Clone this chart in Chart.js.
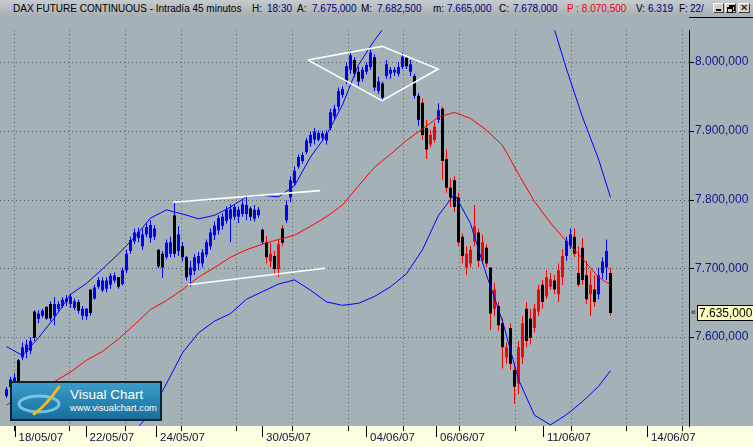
<!DOCTYPE html>
<html lang="es">
<head>
<meta charset="UTF-8">
<title>DAX FUTURE CONTINUOUS - Intradía 45 minutos</title>
<script src="https://cdn.jsdelivr.net/npm/chart.js"></script>
<style>
  html, body { margin: 0; padding: 0; }
  body { width: 753px; height: 447px; position: relative; overflow: hidden; background: #a4b2b8;
         font-family: "Liberation Sans", Arial, sans-serif; }
  #hdr { position: absolute; left: 0; top: 0; width: 753px; height: 17px;
         background: linear-gradient(#c6cbce, #a6adb1); }
  #hdr span { position: absolute; top: 2px; font-size: 10px; line-height: 13px; white-space: pre; color: #000; }
  #hdr span.v { color: #00007c; }
  #hdr span.p { color: #f00000; }
  .btn { position: absolute; top: 3px; width: 11px; height: 10px; background: #d4d0c8;
         border: 1px solid; border-color: #fff #404040 #404040 #fff; box-sizing: border-box; }
  .btn i { position: absolute; display: block; }
  #wrap { position: absolute; left: 0; top: 17px; width: 753px; height: 430px; }
  #logo { position: absolute; left: 10px; top: 381px; width: 152px; height: 40px; box-sizing: border-box;
          border: 2px solid #0b2532; background: linear-gradient(#3c9cc9, #146f9c); overflow: hidden; }
  #logo .t1 { position: absolute; left: 58px; top: 4px; color: #fff; font-size: 13.5px; line-height: 15px; }
  #logo .t2 { position: absolute; left: 58px; top: 20px; color: #fff; font-size: 9.3px; line-height: 11px; }
  #logo svg { position: absolute; left: 0; top: 0; }
</style>
</head>
<body>
<div id="hdr">
  <span style="left:13px">DAX FUTURE CONTINUOUS - Intradía 45 minutos</span>
  <span style="left:252px">H:</span><span class="v" style="left:267px">18:30</span>
  <span style="left:297px">A:</span><span class="v" style="left:312px">7.675,000</span>
  <span style="left:361px">M:</span><span class="v" style="left:377px">7.682,500</span>
  <span style="left:433px">m:</span><span class="v" style="left:447px">7.665,000</span>
  <span style="left:499px">C:</span><span class="v" style="left:513px">7.678,000</span>
  <span class="p" style="left:567px">P : 8.070,500</span>
  <span style="left:636px">V:</span><span class="v" style="left:648px">6.319</span>
  <span style="left:679px">F:</span><span class="v" style="left:690px">22/</span>
  <div class="btn" style="left:713px"><i style="left:2px;top:5px;width:5px;height:2px;background:#000"></i></div>
  <div class="btn" style="left:725px"><i style="left:3px;top:1px;width:4px;height:3px;border:1px solid #000;border-top-width:2px"></i><i style="left:1px;top:3px;width:4px;height:3px;border:1px solid #000;border-top-width:2px;background:#d4d0c8"></i></div>
  <div class="btn" style="left:738px;width:12px"><i style="left:1px;top:-2px;font:bold 10px/12px 'DejaVu Sans',sans-serif;font-style:normal">✕</i></div>
</div>

<div id="wrap"><canvas id="chart"></canvas></div>

<div id="logo">
  <svg width="60" height="38" viewBox="0 0 60 38">
    <ellipse cx="27" cy="21" rx="20" ry="8" fill="none" stroke="#8fd0f0" stroke-width="3" opacity="0.8"/>
    <path d="M47 4 C40 14, 32 24, 22 31" fill="none" stroke="#f2b820" stroke-width="3" stroke-linecap="round"/>
  </svg>
  <div class="t1">Visual Chart</div>
  <div class="t2">www.visualchart.com</div>
</div>

<script>
// 45-minute bars, one entry per bar (index 0 = first bar on the chart)
const opens = [
  7514, 7527, 7531, 7566, 7570, 7578, 7580, 7637, 7626, 7631,
  7644, 7648, 7631, 7641, 7645, 7651, 7648, 7642, 7651, 7641,
  7641, 7669, 7656, 7673, 7668, 7670, 7676, 7682, 7687, 7677,
  7697, 7725, 7739, 7744, 7732, 7749, 7744, 7746, 7727, 7721,
  7716, 7721, 7777, 7725, 7732, 7716, 7690, 7696, 7707, 7707,
  7720, 7732, 7748, 7755, 7762, 7769, 7772, 7775, 7785, 7779,
  7779, 7787, 7772, 7777, 7756, 7738, 7721, 7718, 7699, 7758,
  7770, 7803, 7824, 7848, 7856, 7869, 7882, 7887, 7887, 7890,
  7896, 7904, 7921, 7935, 7952, 7972, 7989, 8003, 7986, 7976,
  7986, 7993, 8007, 7958, 7969, 7980, 7983, 7989, 7983, 7993,
  8006, 7997, 7980, 7951, 7941, 7904, 7880, 7887, 7916, 7932,
  7859, 7817, 7828, 7803, 7746, 7701, 7707, 7739, 7752, 7711,
  7730, 7701, 7641, 7645, 7620, 7570, 7613, 7552, 7532, 7570,
  7641, 7627, 7613, 7637, 7676, 7659, 7673, 7682, 7662, 7687,
  7718, 7732, 7746, 7693, 7730, 7690, 7662, 7669, 7662, 7693,
  7701, 7693
];
const highs = [
  7527, 7542, 7547, 7568, 7592, 7596, 7600, 7639, 7639, 7641,
  7644, 7652, 7658, 7652, 7658, 7661, 7663, 7656, 7654, 7645,
  7642, 7669, 7676, 7687, 7687, 7687, 7693, 7694, 7687, 7701,
  7727, 7746, 7758, 7759, 7758, 7765, 7770, 7763, 7728, 7725,
  7742, 7746, 7796, 7761, 7738, 7718, 7711, 7721, 7724, 7728,
  7742, 7758, 7768, 7777, 7780, 7790, 7793, 7793, 7790, 7799,
  7806, 7790, 7792, 7789, 7758, 7747, 7737, 7725, 7742, 7763,
  7799, 7834, 7848, 7866, 7869, 7890, 7899, 7904, 7901, 7900,
  7901, 7932, 7938, 7963, 7965, 8000, 8017, 8007, 7993, 7993,
  8000, 8021, 8011, 7979, 7972, 8003, 7993, 7993, 8000, 8014,
  8008, 8003, 7983, 7955, 7947, 7916, 7901, 7913, 7940, 7935,
  7873, 7831, 7834, 7810, 7751, 7732, 7732, 7792, 7758, 7749,
  7735, 7701, 7679, 7651, 7627, 7592, 7620, 7561, 7594, 7630,
  7651, 7641, 7648, 7676, 7683, 7697, 7693, 7690, 7707, 7728,
  7746, 7758, 7758, 7732, 7744, 7711, 7697, 7690, 7701, 7716,
  7742, 7701
];
const lows = [
  7511, 7524, 7528, 7530, 7566, 7569, 7575, 7594, 7620, 7628,
  7625, 7623, 7617, 7637, 7642, 7645, 7642, 7639, 7634, 7625,
  7625, 7631, 7654, 7670, 7665, 7665, 7670, 7679, 7670, 7675,
  7693, 7721, 7735, 7738, 7727, 7745, 7737, 7741, 7700, 7686,
  7713, 7716, 7716, 7718, 7710, 7682, 7673, 7690, 7697, 7701,
  7716, 7727, 7741, 7749, 7756, 7765, 7738, 7770, 7766, 7775,
  7770, 7769, 7768, 7773, 7735, 7707, 7701, 7690, 7687, 7732,
  7766, 7796, 7821, 7845, 7852, 7866, 7877, 7880, 7885, 7886,
  7880, 7901, 7916, 7930, 7948, 7968, 7983, 7978, 7965, 7972,
  7982, 7989, 7958, 7954, 7944, 7976, 7976, 7980, 7979, 7990,
  7990, 7980, 7947, 7907, 7887, 7859, 7876, 7883, 7911, 7828,
  7810, 7789, 7782, 7732, 7707, 7690, 7701, 7732, 7701, 7707,
  7701, 7610, 7630, 7609, 7554, 7561, 7552, 7503, 7517, 7561,
  7585, 7589, 7606, 7630, 7641, 7655, 7669, 7662, 7651, 7676,
  7711, 7728, 7716, 7673, 7676, 7648, 7630, 7644, 7655, 7685,
  7683, 7631
];
const closes = [
  7524, 7538, 7541, 7534, 7585, 7589, 7594, 7599, 7634, 7638,
  7627, 7627, 7648, 7648, 7654, 7656, 7659, 7652, 7638, 7631,
  7630, 7635, 7672, 7683, 7682, 7682, 7689, 7690, 7673, 7697,
  7721, 7741, 7752, 7753, 7749, 7760, 7763, 7758, 7703, 7701,
  7737, 7738, 7721, 7749, 7716, 7687, 7701, 7716, 7718, 7723,
  7738, 7752, 7762, 7773, 7775, 7785, 7786, 7789, 7775, 7793,
  7792, 7775, 7785, 7785, 7738, 7716, 7710, 7699, 7735, 7737,
  7792, 7828, 7842, 7862, 7865, 7886, 7894, 7899, 7897, 7896,
  7886, 7927, 7932, 7958, 7961, 7994, 8010, 7983, 7972, 7989,
  7996, 8014, 7963, 7972, 7948, 7997, 7989, 7985, 7993, 8008,
  7994, 7986, 7951, 7916, 7894, 7873, 7894, 7906, 7930, 7856,
  7817, 7803, 7789, 7738, 7718, 7721, 7727, 7761, 7711, 7738,
  7707, 7634, 7669, 7617, 7585, 7585, 7561, 7528, 7585, 7620,
  7594, 7599, 7641, 7669, 7651, 7687, 7684, 7669, 7697, 7718,
  7740, 7749, 7721, 7676, 7683, 7655, 7676, 7651, 7690, 7710,
  7725, 7635
];

// indicator lines, sampled at these bar indexes
const bandIdx = [0, 4, 8, 12, 16, 20, 24, 28, 32, 36, 40, 44, 48, 52, 56, 60, 64, 68, 72, 76,
                 80, 84, 88, 92, 96, 100, 104, 108, 112, 116, 120, 124, 128, 132, 136, 140, 144, 148, 151];
const maVals = [7501, 7514, 7525, 7535, 7549, 7566, 7579, 7597, 7618, 7640, 7653, 7669, 7687, 7701, 7716, 7727, 7735, 7742, 7748, 7761,
                7775, 7792, 7820, 7847, 7866, 7886, 7903, 7920, 7927, 7918, 7901, 7879, 7837, 7797, 7766, 7739, 7714, 7687, 7676];
const upperVals = [7586, 7573, 7599, 7628, 7662, 7678, 7699, 7721, 7745, 7773, 7785, 7779, 7772, 7777, 7789, 7804, 7806, 7804, 7820, 7862,
                   7894, 7938, 7996, 8032, 8063, 8087, 8106, 8117, 8124, 8127, 8127, 8121, 8110, 8092, 8066, 7990, 7920, 7859, 7803];
const lowerVals = [7408, 7401, 7397, 7397, 7401, 7411, 7422, 7437, 7462, 7490, 7532, 7577, 7606, 7623, 7634, 7655, 7666, 7677, 7683, 7668,
                   7651, 7646, 7649, 7659, 7673, 7692, 7727, 7777, 7808, 7765, 7690, 7623, 7538, 7486, 7472, 7487, 7506, 7528, 7551];

// hand drawn white lines [barIndex, price]
const wedgeTop = [[41.6, 7796], [78.4, 7813]];
const wedgeBottom = [[45.4, 7676], [79.6, 7700]];
const diamond = [[75.4, 8003], [93.9, 8023], [107.9, 7990], [93.9, 7944], [75.4, 8003]];

// axis labels
const dayLabels = ['18/05/07', '22/05/07', '24/05/07', '30/05/07', '04/06/07', '06/06/07', '11/06/07', '14/06/07'];
const dayStart = [2, 19.75, 37.4, 63.9, 89.9, 107.4, 134.1, 160.1];
const yTicks = [7600, 7700, 7800, 7900, 8000];

const X_MIN = -1.625, X_MAX = 170.625;
const Y_MIN = 7470.4, Y_MAX = 8046.5;
const GRID_X0 = 1.75, GRID_STEP = 13.925;
const BIG_BODY = 12;   // bodies at least this tall are painted black when falling

const BLUE = '#0000ff', RED = '#ff0000', BLACK = '#000000';
const PLOT_BG = '#a4b2b8', AXIS_BG = '#ffffe1';

function fmt(v) {
  const s = String(Math.round(v));
  return s.slice(0, -3) + '.' + s.slice(-3) + ',000';
}

function maAt(i) {
  for (let k = 1; k < bandIdx.length; k++) {
    if (i <= bandIdx[k]) {
      const a = bandIdx[k - 1], b = bandIdx[k];
      return maVals[k - 1] + (maVals[k] - maVals[k - 1]) * (i - a) / (b - a);
    }
  }
  return maVals[maVals.length - 1];
}

const trendColor = closes.map((c, i) => c >= maAt(i) ? BLUE : RED);
const bodyColor = closes.map((c, i) => (opens[i] - c >= BIG_BODY) ? BLACK : trendColor[i]);

const toPts = arr => arr.map(p => ({ x: p[0], y: p[1] }));
const bandPts = vals => vals.map((v, k) => ({ x: bandIdx[k], y: v }));

const decor = {
  id: 'decor',
  beforeDraw(chart) {
    const { ctx, width, height, chartArea } = chart;
    const xs = chart.scales.x, ys = chart.scales.y;
    ctx.save();
    ctx.fillStyle = PLOT_BG;
    ctx.fillRect(0, 0, width, chartArea.bottom);
    ctx.fillStyle = AXIS_BG;
    ctx.fillRect(0, chartArea.bottom, width, height - chartArea.bottom);

    // dotted grid
    ctx.strokeStyle = '#5a6266';
    ctx.lineWidth = 1;
    ctx.setLineDash([1, 3]);
    ctx.beginPath();
    for (let v = GRID_X0; v < X_MAX; v += GRID_STEP) {
      const px = Math.round(xs.getPixelForValue(v)) + 0.5;
      ctx.moveTo(px, chartArea.top);
      ctx.lineTo(px, chartArea.bottom);
    }
    yTicks.forEach(t => {
      const py = Math.round(ys.getPixelForValue(t)) + 0.5;
      ctx.moveTo(chartArea.left, py);
      ctx.lineTo(chartArea.right, py);
    });
    ctx.stroke();
    ctx.restore();
  },
  afterDraw(chart) {
    const { ctx, chartArea, width } = chart;
    const xs = chart.scales.x, ys = chart.scales.y;
    ctx.save();
    ctx.strokeStyle = '#000';
    ctx.lineWidth = 1;
    ctx.beginPath();
    // x ticks: short ones under the grid, long ones at each day
    for (let v = GRID_X0; v < X_MAX; v += GRID_STEP) {
      const px = Math.round(xs.getPixelForValue(v)) + 0.5;
      ctx.moveTo(px, chartArea.bottom);
      ctx.lineTo(px, chartArea.bottom + 5);
    }
    dayStart.forEach(v => {
      const px = Math.round(xs.getPixelForValue(v)) + 0.5;
      ctx.moveTo(px, chartArea.bottom);
      ctx.lineTo(px, chartArea.bottom + 11);
    });
    // y ticks
    yTicks.forEach(t => {
      const py = Math.round(ys.getPixelForValue(t)) + 0.5;
      ctx.moveTo(chartArea.right, py);
      ctx.lineTo(chartArea.right + 5, py);
    });
    // top edge of the price panel
    ctx.moveTo(chartArea.right, 0.5);
    ctx.lineTo(width, 0.5);
    ctx.stroke();

    // last price marker
    const last = closes[closes.length - 1];
    const py = Math.round(ys.getPixelForValue(last));
    ctx.fillStyle = '#ffffc0';
    ctx.fillRect(chartArea.right + 8, py - 8, width - chartArea.right - 8, 16);
    ctx.strokeRect(chartArea.right + 8.5, py - 7.5, width - chartArea.right - 8, 15);
    ctx.fillStyle = '#000';
    ctx.font = '12px "Liberation Sans", Arial, sans-serif';
    ctx.textBaseline = 'middle';
    ctx.fillText(fmt(last), chartArea.right + 10, py + 0.5);
    ctx.font = '9px "Liberation Sans", Arial, sans-serif';
    ctx.fillText('«', chartArea.right + 2, py);
    ctx.restore();
  }
};

const lineDefaults = { type: 'line', pointRadius: 0, borderWidth: 1, tension: 0, clip: 0, fill: false };

new Chart(document.getElementById('chart'), {
  type: 'bar',
  data: {
    datasets: [
      { ...lineDefaults, data: toPts(wedgeTop), borderColor: '#ffffff', borderWidth: 1.6, order: 0 },
      { ...lineDefaults, data: toPts(wedgeBottom), borderColor: '#ffffff', borderWidth: 1.6, order: 0 },
      { ...lineDefaults, data: toPts(diamond), borderColor: '#ffffff', borderWidth: 1.6, order: 0 },
      { ...lineDefaults, data: bandPts(maVals), borderColor: RED, order: 1 },
      { ...lineDefaults, data: bandPts(upperVals), borderColor: BLUE, order: 2 },
      { ...lineDefaults, data: bandPts(lowerVals), borderColor: BLUE, order: 3 },
      {
        data: opens.map((o, i) => ({ x: i, y: [Math.min(o, closes[i]), Math.max(o, closes[i])] })),
        backgroundColor: bodyColor, barThickness: 3, minBarLength: 1, order: 5
      },
      {
        data: highs.map((h, i) => ({ x: i, y: [lows[i], h] })),
        backgroundColor: trendColor, barThickness: 1, order: 6
      }
    ]
  },
  options: {
    responsive: true,
    maintainAspectRatio: false,
    animation: false,
    devicePixelRatio: 1,
    layout: { padding: 0 },
    datasets: { bar: { grouped: false, borderWidth: 0, inflateAmount: 0 } },
    plugins: { legend: { display: false }, tooltip: { enabled: false } },
    scales: {
      x: {
        type: 'linear', position: 'bottom', min: X_MIN, max: X_MAX, offset: false,
        grid: { display: false, drawTicks: false, offset: false },
        border: { display: false },
        afterBuildTicks: s => { s.ticks = dayStart.map(v => ({ value: v })); },
        afterFit: s => { s.height = 21; },
        ticks: {
          autoSkip: false, maxRotation: 0, align: 'start', labelOffset: 4, padding: 5,
          color: '#10103c', font: { family: '"Liberation Sans", Arial, sans-serif', size: 11.5 },
          callback: (v, i) => dayLabels[i]
        }
      },
      y: {
        position: 'right', min: Y_MIN, max: Y_MAX,
        grid: { display: false, drawTicks: false },
        border: { display: true, color: '#000', width: 1 },
        afterBuildTicks: s => { s.ticks = yTicks.map(v => ({ value: v })); },
        afterFit: s => { s.width = 64; },
        ticks: {
          padding: 6, color: '#15158a',
          font: { family: '"Liberation Sans", Arial, sans-serif', size: 12 },
          callback: v => fmt(v)
        }
      }
    }
  },
  plugins: [decor]
});
</script>
</body>
</html>
